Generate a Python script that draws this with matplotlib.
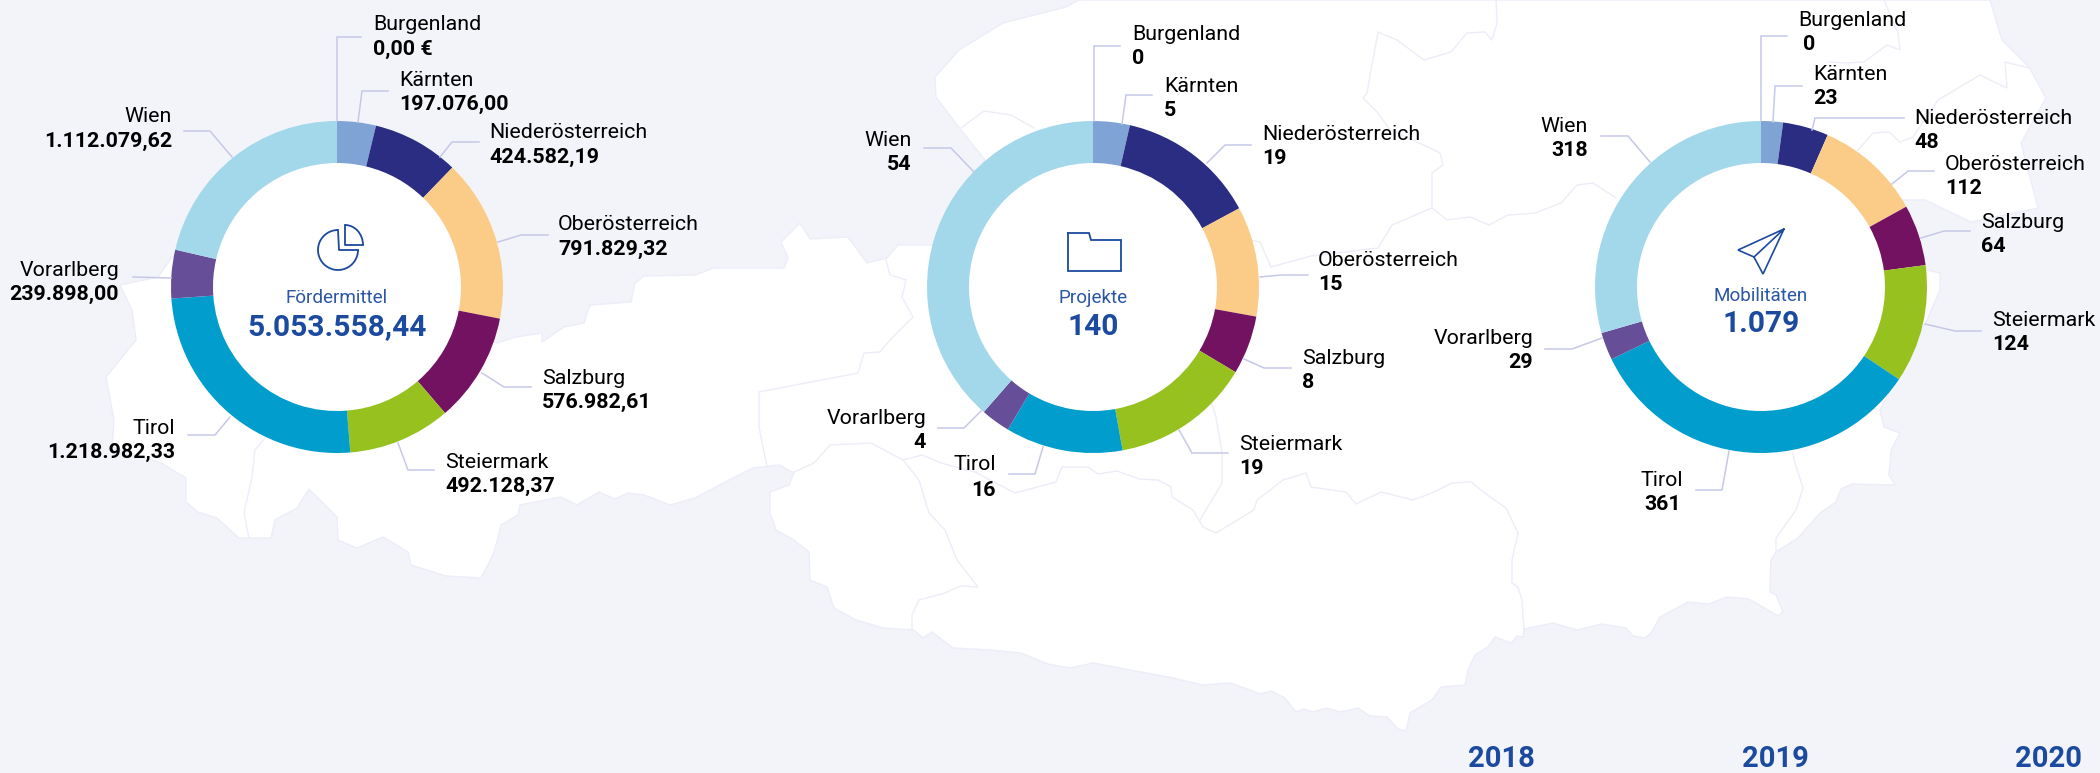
import matplotlib
matplotlib.use('Agg')
import matplotlib.pyplot as plt
from matplotlib.patches import Arc, Circle, Polygon

plt.rcParams['font.family'] = ['Roboto', 'DejaVu Sans']

W = 2100
H = 773
bg = '#F3F4FA'
map_edge = '#ECEDF8'
leader = '#C6C8E8'
blue_text = '#1B4A9E'

# donut order is not the label order: Burgenland is 0 so it has no slice
regions = ['Burgenland', 'Kärnten', 'Niederösterreich', 'Oberösterreich',
           'Salzburg', 'Steiermark', 'Tirol', 'Vorarlberg', 'Wien']
colors = ['#7FA3D5', '#7FA3D5', '#2B2D82', '#FBCC88', '#721260',
          '#96C11F', '#009DCD', '#664F98', '#A3D8EB']

foerdermittel = [0.00, 197076.00, 424582.19, 791829.32, 576982.61,
                 492128.37, 1218982.33, 239898.00, 1112079.62]
# the first ring in the picture is not quite proportional to its printed
# numbers, so its slices are read off the picture (degrees)
foerdermittel_ring = [0, 13.6, 30.4, 57, 38.4, 36, 90.6, 17, 77]
projekte = [0, 5, 19, 15, 8, 19, 16, 4, 54]
mobilitaeten = [0, 23, 48, 112, 64, 124, 361, 29, 318]

titles = ['Fördermittel', 'Projekte', 'Mobilitäten']
totals = ['5.053.558,44', '140', '1.079']
years = ['2018', '2019', '2020']

# layout, all in pixels of the 2100x773 picture
centers = [(337, 287), (1093, 287), (1761, 287)]
title_y = [298, 298, 296]
total_y = [327, 327, 324]
year_x = [1501, 1775, 2048]
outer_r = 166
inner_r = 124

# text x, name y, value y, alignment for each region
labels_1 = [(373, 25, 49, 'left'), (399, 80, 104, 'left'), (489, 133, 157, 'left'),
            (558, 225, 249, 'left'), (542, 378, 402, 'left'), (445, 462, 486, 'left'),
            (175, 428, 452, 'right'), (119, 270, 294, 'right'), (172, 117, 141, 'right')]
labels_2 = [(1132, 34, 58, 'left'), (1164, 86, 110, 'left'), (1262, 135, 159, 'left'),
            (1318, 261, 285, 'left'), (1302, 359, 383, 'left'), (1239, 444, 468, 'left'),
            (996, 465, 490, 'right'), (926, 419, 443, 'right'), (912, 140, 164, 'right')]
labels_3 = [(1798, 21, 45, 'left'), (1813, 75, 99, 'left'), (1914, 118, 142, 'left'),
            (1945, 164, 188, 'left'), (1981, 222, 246, 'left'), (1992, 320, 344, 'left'),
            (1683, 480, 505, 'right'), (1533, 339, 362, 'right'), (1588, 126, 150, 'right')]

leaders_1 = [[(337, 121), (337, 37), (361, 37)], [(358, 122), (362, 91), (388, 91)],
             [(440, 157), (452, 142), (479, 142)], [(498, 242), (521, 235), (548, 235)],
             [(482, 373), (504, 387), (531, 387)], [(398, 443), (408, 470), (434, 470)],
             [(230, 417), (215, 435), (188, 435)], [(171, 278), (133, 277)],
             [(232, 157), (210, 131), (184, 131)]]
leaders_2 = [[(1094, 121), (1094, 46), (1120, 46)], [(1122, 124), (1126, 95), (1152, 95)],
             [(1207, 163), (1225, 145), (1251, 145)], [(1260, 277), (1281, 275), (1308, 275)],
             [(1244, 359), (1264, 368), (1291, 368)], [(1179, 430), (1192, 453), (1228, 453)],
             [(1043, 447), (1035, 474), (1009, 474)], [(981, 411), (964, 428), (938, 428)],
             [(974, 172), (951, 148), (924, 148)]]
leaders_3 = [[(1761, 121), (1761, 36), (1787, 36)], [(1773, 122), (1775, 86), (1802, 86)],
             [(1812, 130), (1815, 118), (1904, 118)], [(1892, 184), (1908, 171), (1934, 171)],
             [(1921, 238), (1944, 231), (1970, 231)], [(1925, 324), (1955, 331), (1981, 331)],
             [(1729, 451), (1722, 490), (1696, 490)], [(1602, 338), (1572, 349), (1545, 349)],
             [(1650, 162), (1628, 136), (1601, 136)]]

# map of austria behind the donuts
map_outline = [
    (120, 285), (158, 277), (172, 257), (497, 343), (516, 337), (542, 333), (542, 342),
    (564, 327), (584, 323), (590, 305), (631, 302), (635, 283), (644, 276), (695, 275),
    (714, 268), (784, 268), (788, 258), (781, 242), (800, 223), (810, 239), (848, 237),
    (867, 263), (887, 258), (898, 245), (932, 245), (985, 160), (961, 130), (936, 97),
    (935, 77), (959, 50), (1003, 23), (1066, 7), (1079, 0), (1990, 0), (2002, 40),
    (2029, 67), (2046, 98), (2021, 143), (2038, 208), (1971, 222), (1925, 200), (1902, 200),
    (1927, 270), (1940, 273), (1940, 290), (1927, 320), (1880, 410), (1884, 427), (1900, 433),
    (1891, 450), (1889, 475), (1895, 485), (1852, 484), (1841, 489), (1836, 502), (1820, 513),
    (1798, 538), (1776, 552), (1771, 560), (1770, 592), (1776, 595), (1783, 612), (1778, 616),
    (1749, 599), (1727, 597), (1709, 604), (1688, 602), (1660, 617), (1651, 633), (1645, 638),
    (1633, 636), (1626, 628), (1602, 624), (1577, 630), (1553, 623), (1524, 629), (1523, 637),
    (1517, 636), (1511, 643), (1495, 637), (1488, 647), (1475, 655), (1468, 670), (1465, 685),
    (1441, 687), (1432, 700), (1410, 713), (1406, 731), (1398, 729), (1387, 717), (1370, 716),
    (1358, 708), (1340, 712), (1327, 708), (1313, 712), (1304, 709), (1296, 712), (1285, 698),
    (1271, 691), (1260, 694), (1231, 683), (1202, 685), (1173, 678), (1120, 668), (1093, 663),
    (1070, 668), (1048, 664), (1021, 653), (990, 650), (953, 648), (932, 632), (923, 638),
    (914, 630), (883, 628), (856, 620), (834, 608), (827, 587), (810, 580), (809, 552),
    (794, 540), (776, 530), (770, 513), (770, 492), (789, 485), (794, 473), (779, 465),
    (753, 468), (733, 478), (695, 498), (670, 505), (644, 495), (628, 493), (615, 499),
    (599, 492), (577, 505), (561, 497), (520, 505), (518, 515), (501, 525), (494, 553),
    (481, 578), (446, 576), (411, 565), (408, 552), (383, 537), (357, 548), (338, 540),
    (337, 517), (309, 489), (297, 508), (275, 520), (271, 538), (239, 538), (217, 518),
    (198, 512), (186, 502), (186, 478), (161, 463), (112, 447), (114, 420), (106, 377),
    (136, 340), (132, 310),
]
map_borders = [
    [(265, 438), (255, 450), (252, 477), (244, 513), (249, 538)],
    [(886, 260), (890, 275), (906, 280), (902, 297), (913, 317), (890, 340), (880, 352),
     (864, 353), (858, 373), (759, 392), (759, 427), (767, 467)],
    [(794, 472), (814, 463), (830, 445), (871, 443), (903, 460), (922, 455), (941, 463),
     (975, 472), (1015, 493), (1056, 482), (1062, 467), (1088, 467), (1098, 474), (1117, 471),
     (1139, 479), (1158, 480), (1171, 487), (1172, 497), (1193, 510), (1203, 527), (1216, 533),
     (1254, 510), (1257, 500), (1283, 480), (1306, 473), (1311, 487), (1346, 492), (1356, 504),
     (1381, 492), (1413, 500), (1432, 493), (1452, 483), (1471, 482), (1490, 497), (1506, 508),
     (1518, 533), (1512, 560), (1512, 583), (1518, 587), (1522, 600), (1524, 629)],
    [(1200, 520), (1222, 483), (1222, 453), (1216, 417), (1212, 404)],
    [(903, 460), (919, 480), (929, 513), (945, 530), (957, 560), (978, 587), (960, 586),
     (945, 593), (919, 600), (912, 615), (912, 630)],
    [(961, 128), (984, 111), (1011, 115), (1034, 128)],
    [(1496, 0), (1497, 23), (1492, 40), (1485, 32), (1467, 33), (1451, 52), (1424, 60),
     (1397, 40), (1378, 32), (1367, 93), (1363, 98), (1378, 113), (1390, 130), (1428, 147),
     (1440, 153), (1443, 165), (1432, 173), (1432, 208), (1447, 220), (1470, 217), (1489, 225),
     (1508, 215), (1535, 213), (1561, 203), (1577, 185), (1593, 183), (1616, 198)],
    [(1432, 208), (1392, 225), (1378, 248), (1311, 256), (1271, 267), (1260, 242), (1250, 240)],
    [(1858, 150), (1873, 133), (1889, 132), (1900, 142), (1913, 137), (1938, 100), (1980, 75),
     (2007, 88), (2005, 62), (2029, 68)],
    [(1884, 0), (1898, 33), (1900, 50), (1887, 45), (1864, 62), (1846, 63), (1829, 62)],
    [(1793, 453), (1794, 460), (1803, 488), (1796, 510), (1776, 538), (1776, 552)],
]


def fmt_euro(v):
    s = f'{v:,.2f}'
    return s.replace(',', 'X').replace('.', ',').replace('X', '.')


def fmt_count(v):
    return str(v)


fig = plt.figure(figsize=(W / 100, H / 100), dpi=100, facecolor=bg)
ax = fig.add_axes([0, 0, 1, 1], zorder=3)
ax.set_xlim(0, W)
ax.set_ylim(H, 0)
ax.axis('off')
ax.patch.set_alpha(0)

# the map sits in its own axes under the donuts
ax_map = fig.add_axes([0, 0, 1, 1], zorder=1)
ax_map.set_xlim(0, W)
ax_map.set_ylim(H, 0)
ax_map.axis('off')
ax_map.add_patch(Polygon(map_outline, closed=True, facecolor='white', edgecolor=map_edge, lw=1))
for b in map_borders:
    ax_map.plot([p[0] for p in b], [p[1] for p in b], color=map_edge, lw=1)

series = [foerdermittel, projekte, mobilitaeten]
rings = [foerdermittel_ring, projekte, mobilitaeten]
formats = [fmt_euro, fmt_count, fmt_count]
all_labels = [labels_1, labels_2, labels_3]
all_leaders = [leaders_1, leaders_2, leaders_3]

for i in range(3):
    cx, cy = centers[i]
    pie_ax = fig.add_axes([(cx - outer_r) / W, 1 - (cy + outer_r) / H,
                           2 * outer_r / W, 2 * outer_r / H], zorder=2)
    pie_ax.pie(rings[i], colors=colors, startangle=90, counterclock=False, radius=1,
               wedgeprops={'width': 1 - inner_r / outer_r, 'linewidth': 0})
    pie_ax.add_patch(Circle((0, 0), inner_r / outer_r, color='white', lw=0, zorder=0))
    pie_ax.set_xlim(-1, 1)
    pie_ax.set_ylim(-1, 1)

    for line in all_leaders[i]:
        ax.plot([p[0] for p in line], [p[1] for p in line], color=leader, lw=1.1,
                solid_joinstyle='miter')

    for j in range(len(regions)):
        x, name_y, val_y, ha = all_labels[i][j]
        val = formats[i](series[i][j])
        val_x = x
        if i == 0 and j == 0:
            val = '0,00 €'
        if i == 2 and j == 0:
            val_x = x + 5
        if i == 2 and j == 6:
            val_x = x - 2
        ax.text(x, name_y, regions[j], ha=ha, va='center', fontsize=15.4, color='black')
        ax.text(val_x, val_y, val, ha=ha, va='center', fontsize=15.4, color='black',
                fontweight='bold')

    ax.text(cx, title_y[i], titles[i], ha='center', va='center', fontsize=13.6,
            color='#2B55A5')
    ax.text(cx, total_y[i], totals[i], ha='center', va='center', fontsize=21.5,
            color=blue_text, fontweight='bold')

for x, y in zip(year_x, years):
    ax.text(x, 759, y, ha='center', va='center', fontsize=21, color=blue_text,
            fontweight='bold')

# icons in the donut holes
ax.add_patch(Arc((338, 250), 40, 40, theta1=0, theta2=270, color=blue_text, lw=1.3))
ax.plot([338, 339, 358], [230, 250, 250], color=blue_text, lw=1.3)
ax.add_patch(Arc((345, 245), 36, 40, theta1=270, theta2=360, color=blue_text, lw=1.3))
ax.plot([345, 345, 363], [225, 245, 245], color=blue_text, lw=1.3)

folder_x = [1068, 1089, 1091, 1121, 1121, 1068, 1068]
folder_y = [233, 233, 240, 240, 271, 271, 233]
ax.plot(folder_x, folder_y, color=blue_text, lw=1.3, solid_joinstyle='miter')

plane_x = [1784, 1738, 1754, 1763, 1784, 1754]
plane_y = [229, 250, 257, 274, 229, 257]
ax.plot(plane_x, plane_y, color=blue_text, lw=1.2, solid_joinstyle='miter')

fig.savefig('out.png', dpi=100, facecolor=bg)
